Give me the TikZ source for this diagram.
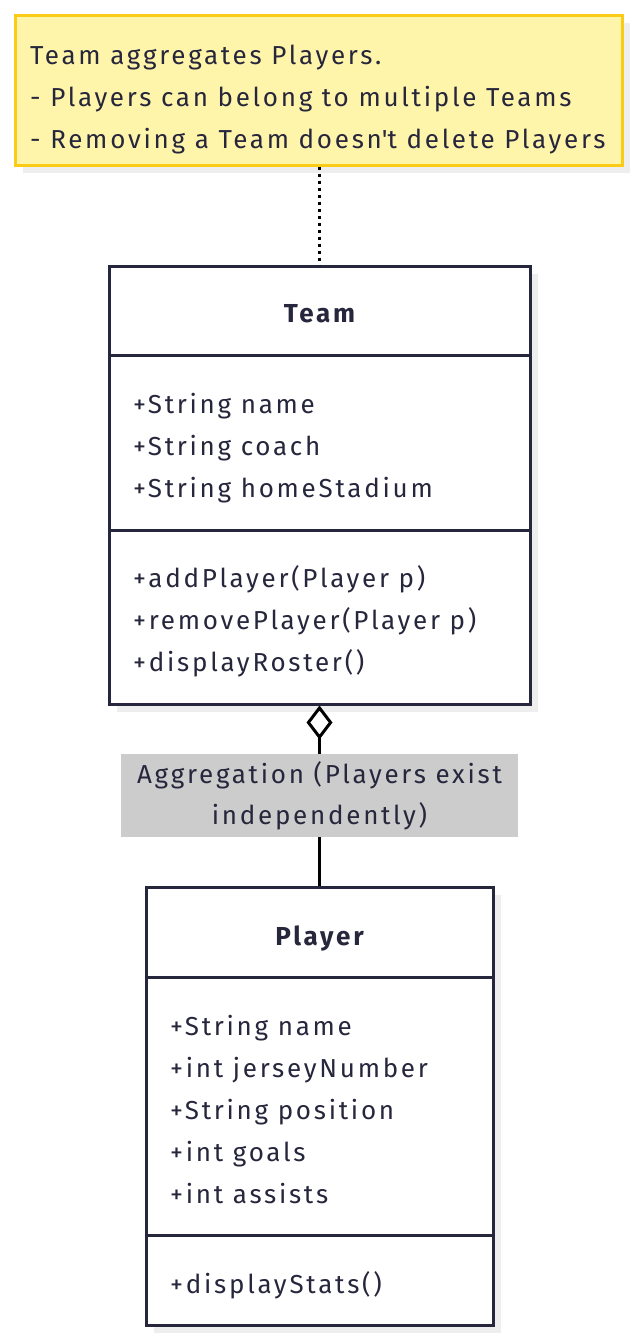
\documentclass[tikz,border=0pt]{standalone}
\usepackage{fontspec}
\setmainfont{Fira Sans}[LetterSpace=10.5]
\usetikzlibrary{arrows.meta}
\definecolor{ink}{RGB}{38,38,60}
\definecolor{notefill}{RGB}{255,245,170}
\definecolor{noteborder}{RGB}{250,204,21}
\definecolor{shadowgray}{RGB}{238,238,238}
\definecolor{labelgray}{RGB}{204,204,204}
\tikzset{
  txt/.style={anchor=base west, inner sep=0pt, text=ink, font=\fontsize{26}{42}\selectfont},
  ttl/.style={anchor=base, inner sep=0pt, text=ink, font=\fontsize{26}{42}\selectfont\bfseries},
  classbox/.style={draw=ink, line width=3pt, fill=white, inner sep=0pt},
  notebox/.style={draw=noteborder, line width=3pt, fill=notefill, inner sep=0pt},
  divider/.style={draw=ink, line width=3pt},
  conn/.style={draw=black, line width=3pt},
}
\begin{document}
\begin{tikzpicture}[x=1pt,y=-1pt]
\useasboundingbox (0,0) rectangle (639,1342);
% shadows
\fill[shadowgray] (23,23) rectangle (630,173);
\fill[shadowgray] (117,274) rectangle (538,712);
\fill[shadowgray] (154,895) rectangle (501,1333);
% note
\node[notebox, minimum width=607pt, minimum height=150pt] (note) at (318.5,90) {};
\node[txt] (n1) at (30,64) {Team aggregates Players.};
\node[txt] (n2) at (30,106) {- Players can belong to multiple Teams};
\node[txt] (n3) at (30,148) {- Removing a Team doesn\textquotesingle t delete Players};
% team
\node[classbox, minimum width=421pt, minimum height=438pt] (team) at (319.5,485) {};
\draw[divider] (team.west |- 0,355) -- (team.east |- 0,355);
\draw[divider] (team.west |- 0,530) -- (team.east |- 0,530);
\node[ttl] (teamtitle) at (319.5,322) {Team};
\node[txt] (ta1) at (133,413) {+String name};
\node[txt] (ta2) at (133,455) {+String coach};
\node[txt] (ta3) at (133,497) {+String homeStadium};
\node[txt] (tm1) at (133,587) {+addPlayer(Player p)};
\node[txt] (tm2) at (133,629) {+removePlayer(Player p)};
\node[txt] (tm3) at (133,671) {+displayRoster()};
% player
\node[classbox, minimum width=347pt, minimum height=438pt] (player) at (319.5,1106) {};
\draw[divider] (player.west |- 0,977) -- (player.east |- 0,977);
\draw[divider] (player.west |- 0,1235) -- (player.east |- 0,1235);
\node[ttl] (playertitle) at (319.5,945) {Player};
\node[txt] (pa1) at (170,1035) {+String name};
\node[txt] (pa2) at (170,1077) {+int jerseyNumber};
\node[txt] (pa3) at (170,1119) {+String position};
\node[txt] (pa4) at (170,1161) {+int goals};
\node[txt] (pa5) at (170,1203) {+int assists};
\node[txt] (pm1) at (170,1293) {+displayStats()};
% connectors
\draw[black, line width=3pt, dash pattern=on 3pt off 4pt] (note.south -| team.north) -- (team.north);
\draw[conn, {Diamond[open, length=34pt, width=26pt, line width=3pt]}-] (team.south) -- (player.north)
  node[midway, fill=labelgray, minimum width=397pt, minimum height=83pt, inner sep=0pt, align=center, text=ink, font=\fontsize{26}{41}\selectfont] (lbl) {Aggregation (Players exist\\independently)};
\end{tikzpicture}
\end{document}
